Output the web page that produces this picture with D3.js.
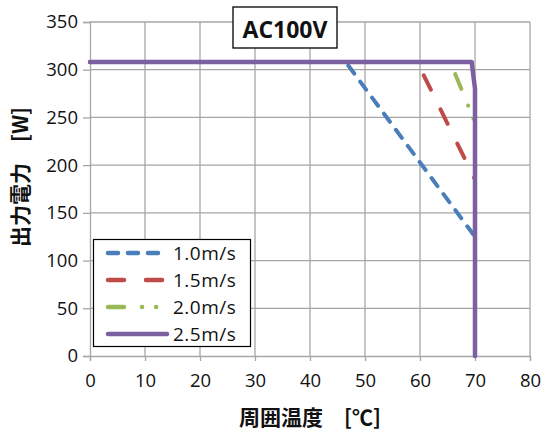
<!DOCTYPE html>
<html>
<head>
<meta charset="utf-8">
<script src="https://cdn.jsdelivr.net/npm/d3@7"></script>
<style>
  html, body { margin: 0; padding: 0; background: #fff; }
  svg { display: block; }
</style>
</head>
<body>
<div id="chart"></div>
<script>
// Derating curves: output power vs ambient temperature, per airflow speed
const seriesNames = ["1.0m/s", "1.5m/s", "2.0m/s", "2.5m/s"];
const temp10 = [0, 46.5, 70];
const power10 = [308, 308, 125];
const temp15 = [0, 59.5, 70];
const power15 = [308, 308, 185];
const temp20 = [0, 65.5, 70];
const power20 = [308, 308, 245];
const temp25 = [0, 69.4, 70, 70];
const power25 = [308, 308, 280, 0];
const xTicks = [0, 10, 20, 30, 40, 50, 60, 70, 80];
const yTicks = [0, 50, 100, 150, 200, 250, 300, 350];
const chartTitle = "AC100V";
const xTitle = "周囲温度　[℃]";
const yTitle = "出力電力　[W]";

const W = 541, H = 434;
const margin = { left: 90, right: 11, top: 22, bottom: 78 };
const svg = d3.select("#chart").append("svg").attr("width", W).attr("height", H);

const x = d3.scaleLinear().domain([0, 80]).range([margin.left, W - margin.right]);
const y = d3.scaleLinear().domain([0, 350]).range([H - margin.bottom, margin.top]);

const numFont = "'Open Sans', 'Liberation Sans', sans-serif";
const cjkFont = "'Noto Sans CJK JP', sans-serif";
const gridColor = "#a6a6a6";

// gridlines
svg.append("g").selectAll("line").data(xTicks.slice(1)).join("line")
  .attr("x1", d => x(d)).attr("x2", d => x(d))
  .attr("y1", y(0)).attr("y2", y(350))
  .attr("stroke", gridColor).attr("stroke-width", 1.3);
svg.append("g").selectAll("line").data(yTicks.slice(1)).join("line")
  .attr("x1", x(0)).attr("x2", x(80))
  .attr("y1", d => y(d)).attr("y2", d => y(d))
  .attr("stroke", gridColor).attr("stroke-width", 1.3);

// axes
const xAxis = svg.append("g").attr("transform", `translate(0,${y(0)})`)
  .call(d3.axisBottom(x).tickValues(xTicks).tickSize(5).tickPadding(13));
const yAxis = svg.append("g").attr("transform", `translate(${x(0)},0)`)
  .call(d3.axisLeft(y).tickValues(yTicks).tickSize(7).tickPadding(5));
[xAxis, yAxis].forEach(a => {
  a.selectAll("path,line").attr("stroke", gridColor).attr("stroke-width", 1.3);
  a.selectAll("text").attr("font-family", numFont).attr("font-size", 18.5).attr("fill", "#111");
});

// series
const series = [
  { name: seriesNames[0], t: temp10, p: power10, color: "#4a7ebb", dash: "10,10" },
  { name: seriesNames[1], t: temp15, p: power15, color: "#be4b48", dash: "16,22" },
  { name: seriesNames[2], t: temp20, p: power20, color: "#98b954", dash: "16,18,0.1,14,0.1,14" },
  { name: seriesNames[3], t: temp25, p: power25, color: "#7d60a0", dash: null }
];
const line = d3.line().x(d => x(d[0])).y(d => y(d[1]));
series.forEach(s => {
  const pts = s.t.map((t, i) => [t, s.p[i]]);
  svg.append("path").datum(pts)
    .attr("d", line)
    .attr("fill", "none")
    .attr("stroke", s.color)
    .attr("stroke-width", s.dash ? 4 : 4.5)
    .attr("stroke-linecap", "round")
    .attr("stroke-linejoin", "round")
    .attr("stroke-dasharray", s.dash);
});

// title box
const tg = svg.append("g");
tg.append("rect").attr("x", 233).attr("y", 7).attr("width", 104).attr("height", 41)
  .attr("fill", "#fff").attr("stroke", "#000").attr("stroke-width", 1.3);
tg.append("text").attr("x", 285).attr("y", 38).attr("text-anchor", "middle")
  .attr("font-family", numFont).attr("font-weight", "bold").attr("font-size", 23)
  .attr("fill", "#111").text(chartTitle);

// legend
const lg = svg.append("g");
lg.append("rect").attr("x", 93.5).attr("y", 239.5).attr("width", 157).attr("height", 107)
  .attr("fill", "#fff").attr("stroke", "#000").attr("stroke-width", 1.2);
series.forEach((s, i) => {
  const yy = 253 + i * 27;
  lg.append("line").attr("x1", 108).attr("x2", 167).attr("y1", yy).attr("y2", yy)
    .attr("stroke", s.color).attr("stroke-width", 4.5).attr("stroke-linecap", "round")
    .attr("stroke-dasharray", s.dash);
  lg.append("text").attr("x", 173).attr("y", yy + 7)
    .attr("font-family", numFont).attr("font-size", 19).attr("letter-spacing", 0.5)
    .attr("fill", "#111").text(s.name);
});

// axis titles
svg.append("text").attr("x", x(40)).attr("y", 425).attr("text-anchor", "middle")
  .attr("font-family", cjkFont).attr("font-weight", "bold").attr("font-size", 21)
  .attr("fill", "#111").text(xTitle);
svg.append("text").attr("transform", "translate(28,177) rotate(-90)")
  .attr("text-anchor", "middle")
  .attr("font-family", cjkFont).attr("font-weight", "bold").attr("font-size", 21)
  .attr("fill", "#111").text(yTitle);
</script>
</body>
</html>
